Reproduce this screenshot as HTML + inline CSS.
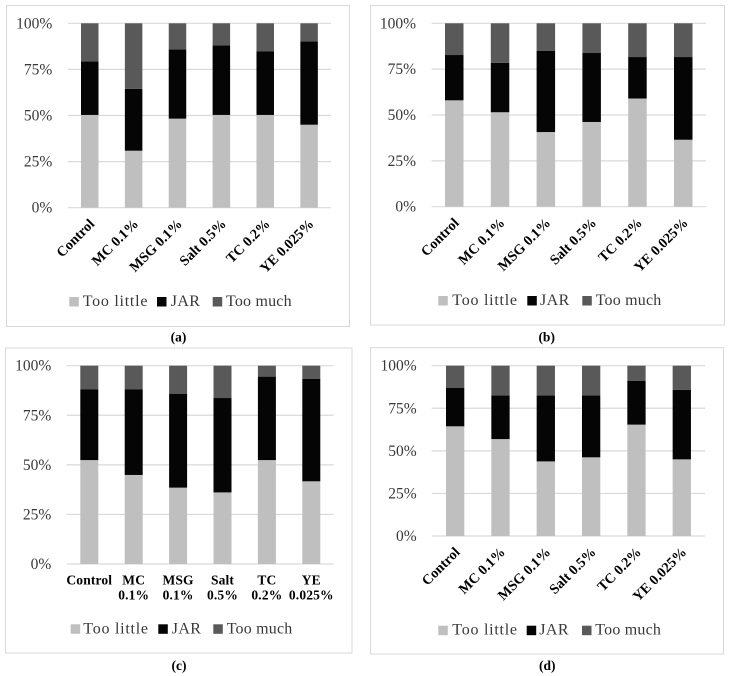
<!DOCTYPE html>
<html lang="en">
<head>
<meta charset="utf-8">
<title>Stacked bar charts of Too little, JAR and Too much responses</title>
<style>
html,body{margin:0;padding:0;background:#fff;}
body{width:731px;height:676px;overflow:hidden;}
svg{display:block;font-family:"Liberation Serif",serif;filter:blur(0.35px);}
</style>
</head>
<body>
<svg id="figure" width="731" height="676" viewBox="0 0 731 676" xmlns="http://www.w3.org/2000/svg"></svg>
<script>
const categories = ["Control", "MC 0.1%", "MSG 0.1%", "Salt 0.5%", "TC 0.2%", "YE 0.025%"];
const tickLabels = ["0%", "25%", "50%", "75%", "100%"];
const tickValues = [0, 25, 50, 75, 100];
const seriesNames = ["Too little", "JAR", "Too much"];

const tooLittleA = [50.3, 30.9, 48.3, 50.3, 50.3, 45.0];
const jarA = [29.1, 33.5, 37.6, 37.7, 34.4, 45.2];
const tooMuchA = [20.6, 35.6, 14.1, 12.0, 15.3, 9.8];

const tooLittleB = [58.0, 51.5, 40.7, 46.2, 59.0, 36.5];
const jarB = [24.7, 27.0, 44.2, 37.6, 22.6, 45.1];
const tooMuchB = [17.3, 21.5, 15.1, 16.2, 18.4, 18.4];

const tooLittleC = [52.4, 44.9, 38.5, 36.1, 52.4, 41.7];
const jarC = [35.6, 43.1, 47.4, 47.6, 42.1, 51.6];
const tooMuchC = [12.0, 12.0, 14.1, 16.3, 5.5, 6.7];

const tooLittleD = [64.4, 56.9, 43.8, 46.2, 65.4, 45.0];
const jarD = [22.5, 25.7, 38.8, 36.4, 25.8, 40.9];
const tooMuchD = [13.1, 17.4, 17.4, 17.4, 8.8, 14.1];

const colors = ["#bfbfbf", "#050505", "#595959"];
const legendSpacing = [0.75, 0.4, 0.2];
const svg = document.getElementById("figure");
const NS = "http://www.w3.org/2000/svg";

function mk(tag, attrs, parent, text) {
  const el = document.createElementNS(NS, tag);
  for (const k in attrs) el.setAttribute(k, attrs[k]);
  if (text !== undefined) el.textContent = text;
  parent.appendChild(el);
  return el;
}

function drawPanel(p) {
  const yScale = v => p.y0 + (p.y100 - p.y0) * v / 100;
  const xCenter = i => p.barFirst + p.barW / 2 + i * p.pitch;

  const g = mk("g", {}, svg);
  
  

  const frame = mk("rect", {x: p.frame[0], y: p.frame[1], width: p.frame[2], height: p.frame[3], fill: "#fff", stroke: "#d9d9d9", "stroke-width": 1}, g);
  
  

  tickValues.forEach((v, i) => {
    const line = mk("line", {x1: p.axisL, x2: p.axisR, y1: yScale(v), y2: yScale(v), stroke: "#d9d9d9", "stroke-width": 1.2}, g);
    
    

    const tick = mk("text", {x: p.tickX, y: yScale(v) + 5, "text-anchor": "end", "font-size": 15.5, fill: "#383838"}, g, tickLabels[i]);
    
    
  });

  categories.forEach((c, i) => {
    let base = 0;
    p.series.forEach((s, k) => {
      const top = base + s[i];
      const bar = mk("rect", {x: xCenter(i) - p.barW / 2, y: yScale(top), width: p.barW, height: yScale(base) - yScale(top), fill: colors[k]}, g);
      
      
      base = top;
    });

    if (p.rotated) {
      const ax = xCenter(i) + 5.5;
      const ay = p.y0 + 17;
      const label = mk("text", {x: ax, y: ay, "text-anchor": "end", "font-size": 14.2, "font-weight": "bold", fill: "#000", transform: "rotate(-45 " + ax + " " + ay + ")"}, g, c);
      
      
    } else {
      const parts = c.split(" ");
      parts.forEach((part, j) => {
        const label = mk("text", {x: xCenter(i), y: p.y0 + 20.3 + j * 15, "text-anchor": "middle", "font-size": 13.5, "font-weight": "bold", "letter-spacing": 0.15, fill: "#000"}, g, part);
        
        
      });
    }
  });

  seriesNames.forEach((name, k) => {
    const swatch = mk("rect", {x: p.legendSwatch[k], y: p.legendY - 9, width: 9.5, height: 9.5, fill: colors[k]}, g);
    
    

    const txt = mk("text", {x: p.legendText[k], y: p.legendY, "font-size": 16, "letter-spacing": legendSpacing[k], fill: "#383838"}, g, name);
    
    
  });

  const cap = mk("text", {x: p.capX, y: p.capY, "text-anchor": "middle", "font-size": 13.5, "font-weight": "bold", fill: "#000"}, g, "(" + p.id + ")");
  
  
}

drawPanel({id: "a", series: [tooLittleA, jarA, tooMuchA], rotated: true,
  frame: [6.5, 5.5, 343, 321], y100: 23.3, y0: 207.7, axisL: 68, axisR: 331, tickX: 52.3,
  barFirst: 81, barW: 17.5, pitch: 43.87,
  legendY: 306, legendSwatch: [69.3, 157, 212.7], legendText: [82.7, 170.7, 226],
  capX: 178.5, capY: 341.7});

drawPanel({id: "b", series: [tooLittleB, jarB, tooMuchB], rotated: true,
  frame: [370.5, 5.5, 354, 319.5], y100: 23.3, y0: 206.7, axisL: 431.7, axisR: 706, tickX: 416,
  barFirst: 445, barW: 18.5, pitch: 45.8,
  legendY: 305, legendSwatch: [438.3, 527.3, 582.3], legendText: [452.3, 540, 595.7],
  capX: 546.7, capY: 341.7});

drawPanel({id: "c", series: [tooLittleC, jarC, tooMuchC], rotated: false,
  frame: [5.5, 348, 346.5, 305], y100: 365.7, y0: 564, axisL: 66.7, axisR: 333.7, tickX: 51.3,
  barFirst: 80.3, barW: 18, pitch: 44.4,
  legendY: 633.3, legendSwatch: [70.7, 158.3, 213.3], legendText: [83.3, 171.7, 226.7],
  capX: 179, capY: 670});

drawPanel({id: "d", series: [tooLittleD, jarD, tooMuchD], rotated: true,
  frame: [370.5, 347.7, 353, 306.3], y100: 365.7, y0: 536, axisL: 431.7, axisR: 705, tickX: 416.7,
  barFirst: 446, barW: 18.3, pitch: 45.33,
  legendY: 634.7, legendSwatch: [438.3, 526.7, 582], legendText: [452.3, 539.3, 595.3],
  capX: 547.3, capY: 670});
</script>
</body>
</html>
